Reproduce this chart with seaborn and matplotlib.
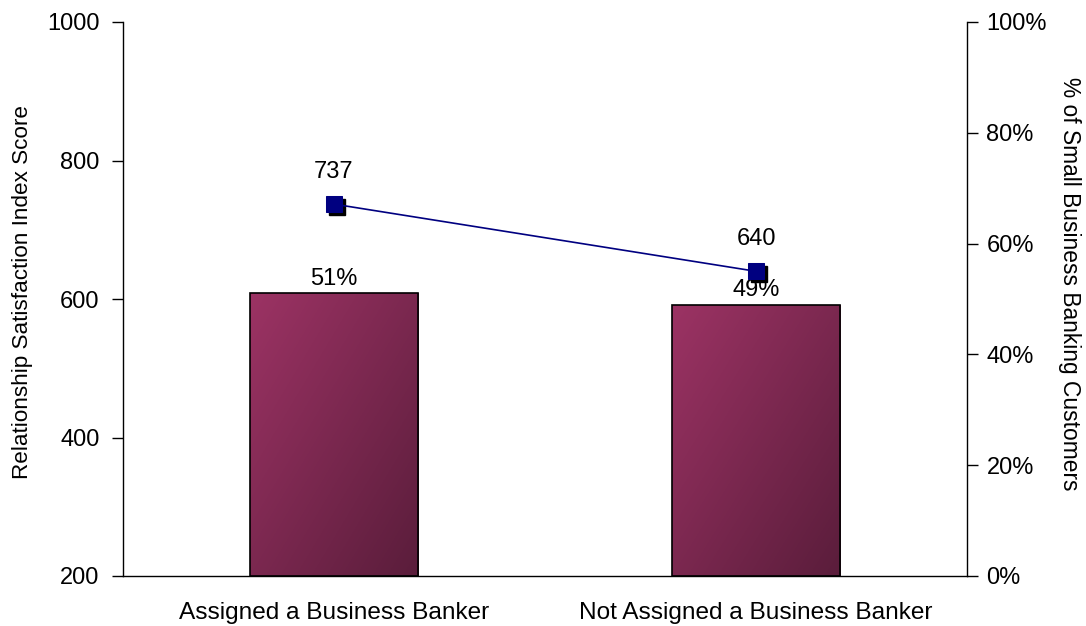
import numpy as np
import pandas as pd
import matplotlib
matplotlib.use("Agg")
import matplotlib.pyplot as plt
import matplotlib.transforms as mtransforms
from matplotlib.colors import LinearSegmentedColormap
import seaborn as sns

categories = ["Assigned a Business Banker", "Not Assigned a Business Banker"]
share_pct = [51, 49]          # % of small business banking customers (bars, right axis)
rsi_score = [737, 640]        # relationship satisfaction index score (line, left axis)

sns.set_theme(style="white")
plt.rcParams["font.family"] = ["Liberation Sans", "DejaVu Sans"]
plt.rcParams["text.color"] = "black"
plt.rcParams["axes.labelcolor"] = "black"
plt.rcParams["xtick.color"] = "black"
plt.rcParams["ytick.color"] = "black"

df = pd.DataFrame({"category": categories, "share": share_pct, "score": rsi_score})

fig = plt.figure(figsize=(10.86, 6.26), dpi=100)
ax_score = fig.add_axes([123 / 1086, 1 - 576 / 626, (967 - 123) / 1086, (576 - 22) / 626])
ax_share = ax_score.twinx()

# bars on the percentage axis
sns.barplot(data=df, x="category", y="share", ax=ax_share, width=0.4,
            color="#8a2d58", edgecolor="black", linewidth=1.2, zorder=1)
ax_share.set_ylim(0, 100)
ax_share.set_yticks(np.arange(0, 101, 20))
ax_share.set_yticklabels([f"{v}%" for v in range(0, 101, 20)])
ax_share.set_ylabel("% of Small Business Banking Customers", fontsize=16.4,
                    rotation=270, va="bottom", labelpad=8)
ax_share.yaxis.label.set_y(0.527)

# diagonal maroon gradient inside each bar: light top-left, dark bottom-right
grad_cmap = LinearSegmentedColormap.from_list("maroon", ["#9c3364", "#5a1d3b"])
gx, gy = np.meshgrid(np.linspace(0, 1, 200), np.linspace(0, 1, 200))
grad = (gx + gy) / 2
for patch in ax_share.patches:
    x0, y0 = patch.get_x(), patch.get_y()
    w, h = patch.get_width(), patch.get_height()
    patch.set_facecolor("none")
    im = ax_share.imshow(grad, cmap=grad_cmap, extent=[x0, x0 + w, y0, y0 + h],
                         origin="upper", aspect="auto", zorder=0.9,
                         interpolation="bilinear")
    im.set_clip_path(patch)
for patch, v in zip(ax_share.patches, share_pct):
    ax_share.text(patch.get_x() + patch.get_width() / 2, v + 1.6, f"{v}%",
                  ha="center", va="baseline", fontsize=17)

# score line on the left axis, drawn above the bars
ax_score.set_zorder(ax_share.get_zorder() + 1)
ax_score.patch.set_visible(False)
shadow = mtransforms.offset_copy(ax_score.transData, fig=fig, x=3, y=-3, units="dots")
xs = np.arange(len(categories))
ax_score.plot(xs, rsi_score, ls="none", marker="s", ms=11, color="black",
              transform=shadow, zorder=2)
sns.lineplot(x=xs, y=rsi_score, ax=ax_score, color="#000080", lw=1.2,
             marker="s", markersize=11, markeredgecolor="#000080", zorder=3)
for x, v in zip(xs, rsi_score):
    ax_score.text(x, v + 38, f"{v}", ha="center", va="baseline", fontsize=17)

ax_score.set_ylim(200, 1000)
ax_score.set_yticks(np.arange(200, 1001, 200))
ax_score.set_xlim(-0.5, 1.5)
ax_score.set_ylabel("Relationship Satisfaction Index Score", fontsize=16.2, labelpad=10)
ax_score.yaxis.label.set_y(0.513)
ax_share.set_xlim(-0.5, 1.5)
ax_score.set_xticks(xs)
ax_score.set_xticklabels(categories)
ax_share.set_xlabel("")
ax_score.set_xlabel("")

for a in (ax_score, ax_share):
    for s in a.spines.values():
        s.set_color("black")
        s.set_linewidth(1.0)
    a.spines["top"].set_visible(False)
    a.tick_params(axis="y", direction="out", length=8, width=1, color="black",
                  labelsize=17)
ax_score.tick_params(axis="y", pad=9)
ax_share.tick_params(axis="y", pad=6)
ax_score.tick_params(axis="x", length=0, labelsize=17.6, pad=19)
ax_share.tick_params(axis="x", length=0, labelbottom=False)
ax_score.spines["right"].set_visible(False)
ax_share.spines["left"].set_visible(False)
ax_share.spines["bottom"].set_visible(False)
ax_score.tick_params(axis="y", left=True, right=False)
ax_share.tick_params(axis="y", left=False, right=True)

fig.savefig("out.png", dpi=100)
